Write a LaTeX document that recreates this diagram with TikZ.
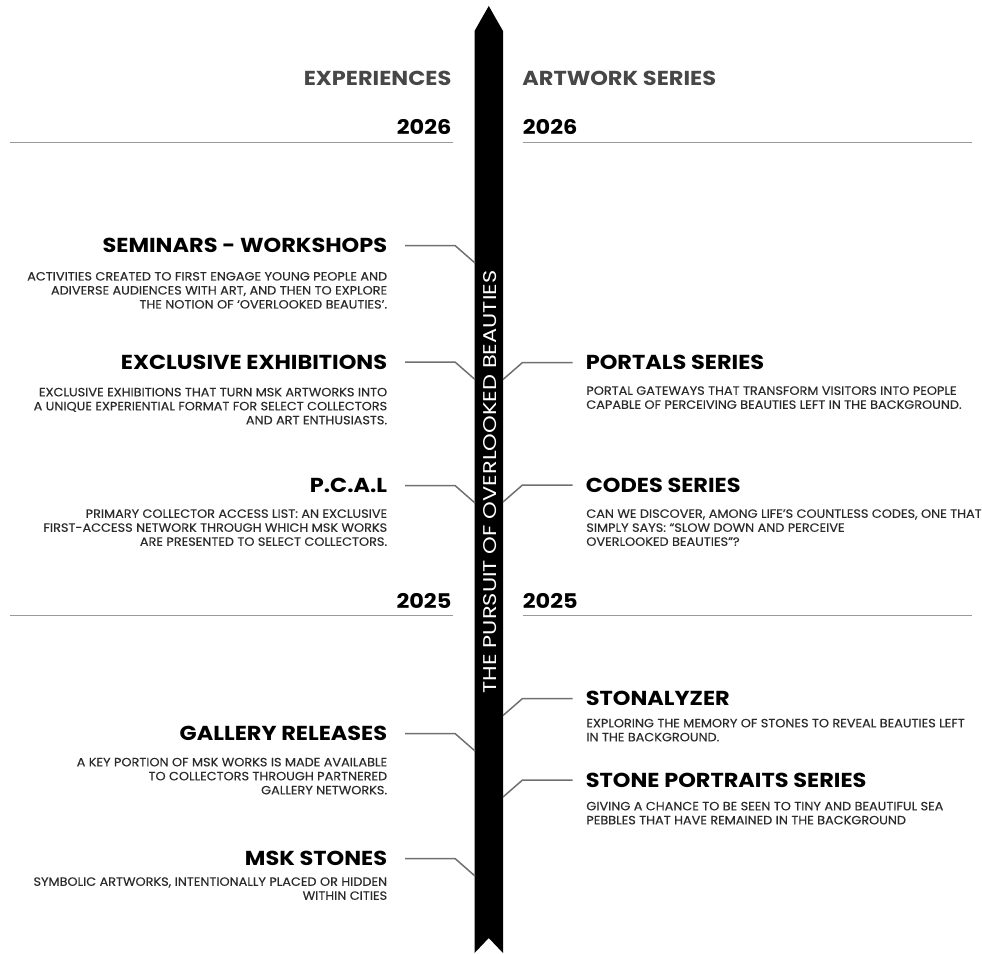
\documentclass[tikz,border=0pt]{standalone}
\usepackage{fontspec}
\setmainfont{Poppins}
\newfontfamily\headfont[FakeStretch=1.11]{Poppins}
\newfontfamily\infofont[FakeStretch=1.075, FakeBold=0.3]{Poppins}
\newfontfamily\spinefont[FakeStretch=1.22]{Poppins}
\usepackage{xcolor}
\definecolor{headgray}{HTML}{474747}
\definecolor{textgray}{HTML}{2A2A2A}
\definecolor{linkgray}{HTML}{707070}
\definecolor{rulegray}{HTML}{9A9A9A}

\begin{document}
\begin{tikzpicture}[x=0.02cm, y=-0.02cm,
		column/.style={font=\headfont\fontsize{11.5}{12}\selectfont\bfseries, text=headgray, inner sep=0pt, text depth=0pt},
		year/.style={font=\headfont\fontsize{11.5}{12}\selectfont\bfseries, text=black, inner sep=0pt, text depth=0pt},
		event/.style={font=\headfont\fontsize{11.5}{12}\selectfont\bfseries, text=black, inner sep=0pt, text depth=0pt},
		info/.style={font=\infofont\fontsize{6.8}{7.97}\selectfont, text=textgray, inner sep=0pt},
		spine/.style={font=\spinefont\fontsize{10.5}{11}\selectfont, text=white, inner sep=0pt, text depth=0pt, rotate=90},
		link/.style={linkgray, line width=0.85pt},
		rule/.style={rulegray, line width=1.1pt}]
		\useasboundingbox (0,0) rectangle (982,953);
		% the timeline bar
		\fill [black] (474.5,953) -- (474.5,31) -- (488.75,6) -- (503,31) -- (503,953) -- (488.75,938) -- cycle;
		\node [spine] (pursuit) at (490,482) {THE PURSUIT OF OVERLOOKED BEAUTIES};
		% column titles and years
		\node [column, anchor=east] (experiences) at (451.7,78) {EXPERIENCES};
		\node [column, anchor=west] (artworks) at (522,78) {ARTWORK SERIES};
		\node [year, anchor=east] (yearLa) at (451.7,127) {2026};
		\node [year, anchor=west] (yearRa) at (522.5,127) {2026};
		\node [year, anchor=east] (yearLb) at (451.7,601) {2025};
		\node [year, anchor=west] (yearRb) at (522.5,601) {2025};
		\draw [rule] (10,142.5) -- (452.5,142.5);
		\draw [rule] (522.5,142.5) -- (972,142.5);
		\draw [rule] (10,615.5) -- (452.5,615.5);
		\draw [rule] (522.5,615.5) -- (972,615.5);
		% experiences (left)
		\node [event, anchor=east] (seminars) at (387.5,245.5) {SEMINARS - WORKSHOPS};
		\node [info, anchor=north east, align=right] (seminarsInfo) at (387.5,271.7) {ACTIVITIES CREATED TO FIRST ENGAGE YOUNG PEOPLE AND\\ ADIVERSE AUDIENCES WITH ART, AND THEN TO EXPLORE\\ THE NOTION OF ‘OVERLOOKED BEAUTIES’.};
		\node [event, anchor=east] (exclusive) at (387.5,362) {EXCLUSIVE EXHIBITIONS};
		\node [info, anchor=north east, align=right] (exclusiveInfo) at (387.5,387.5) {EXCLUSIVE EXHIBITIONS THAT TURN MSK ARTWORKS INTO\\ A UNIQUE EXPERIENTIAL FORMAT FOR SELECT COLLECTORS\\ AND ART ENTHUSIASTS.};
		\node [event, anchor=east] (pcal) at (387.5,485.5) {P.C.A.L};
		\node [info, anchor=north east, align=right] (pcalInfo) at (387.5,509) {PRIMARY COLLECTOR ACCESS LIST: AN EXCLUSIVE\\ FIRST-ACCESS NETWORK THROUGH WHICH MSK WORKS\\ ARE PRESENTED TO SELECT COLLECTORS.};
		\node [event, anchor=east] (gallery) at (387.5,733.5) {GALLERY RELEASES};
		\node [info, anchor=north east, align=right] (galleryInfo) at (387.5,757.5) {A KEY PORTION OF MSK WORKS IS MADE AVAILABLE\\ TO COLLECTORS THROUGH PARTNERED\\ GALLERY NETWORKS.};
		\node [event, anchor=east] (stones) at (387.5,858.5) {MSK STONES};
		\node [info, anchor=north east, align=right] (stonesInfo) at (387.5,877) {SYMBOLIC ARTWORKS, INTENTIONALLY PLACED OR HIDDEN\\ WITHIN CITIES};
		% artwork series (right)
		\node [event, anchor=west] (portals) at (585.5,362.5) {PORTALS SERIES};
		\node [info, anchor=north west, align=left] (portalsInfo) at (586,386) {PORTAL GATEWAYS THAT TRANSFORM VISITORS INTO PEOPLE\\ CAPABLE OF PERCEIVING BEAUTIES LEFT IN THE BACKGROUND.};
		\node [event, anchor=west] (codes) at (585.5,485) {CODES SERIES};
		\node [info, anchor=north west, align=left] (codesInfo) at (586,509) {CAN WE DISCOVER, AMONG LIFE’S COUNTLESS CODES, ONE THAT\\ SIMPLY SAYS: “SLOW DOWN AND PERCEIVE\\ OVERLOOKED BEAUTIES”?};
		\node [event, anchor=west] (stonalyzer) at (585.5,698.5) {STONALYZER};
		\node [info, anchor=north west, align=left] (stonalyzerInfo) at (586,718.5) {EXPLORING THE MEMORY OF STONES TO REVEAL BEAUTIES LEFT\\ IN THE BACKGROUND.};
		\node [event, anchor=west] (portraits) at (585.5,780) {STONE PORTRAITS SERIES};
		\node [info, anchor=north west, align=left] (portraitsInfo) at (586,801.5) {GIVING A CHANCE TO BE SEEN TO TINY AND BEAUTIFUL SEA\\ PEBBLES THAT HAVE REMAINED IN THE BACKGROUND};
		% connectors to the bar
		\foreach \e in {seminars, exclusive, pcal, gallery, stones}
			\draw [link] (\e.east) ++(17.5,0) -- ++(50,0) -- ++(20,17.5);
		\foreach \a in {portals, codes, stonalyzer, portraits}
			\draw [link] (\a.west) ++(-13,0) -- ++(-50,0) -- ++(-19.5,17);
		\end{tikzpicture}
\end{document}
